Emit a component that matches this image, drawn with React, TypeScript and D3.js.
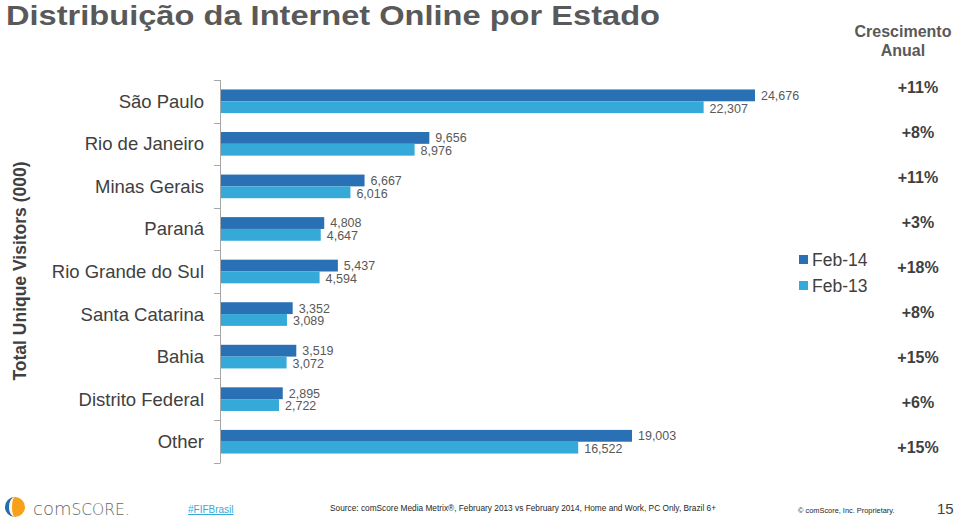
import { useEffect, useRef } from "react"
import * as d3 from "d3"

const categories = [
  "São Paulo",
  "Rio de Janeiro",
  "Minas Gerais",
  "Paraná",
  "Rio Grande do Sul",
  "Santa Catarina",
  "Bahia",
  "Distrito Federal",
  "Other",
]
const feb14 = [24676, 9656, 6667, 4808, 5437, 3352, 3519, 2895, 19003]
const feb13 = [22307, 8976, 6016, 4647, 4594, 3089, 3072, 2722, 16522]
const growth = ["+11%", "+8%", "+11%", "+3%", "+18%", "+8%", "+15%", "+6%", "+15%"]
const seriesNames = ["Feb-14", "Feb-13"]
const seriesColors = ["#2A70B4", "#35A9D8"]

const FONT = "'Liberation Sans', Arial, sans-serif"

export default function App() {
  const svgRef = useRef<SVGSVGElement | null>(null)

  useEffect(() => {
    if (!svgRef.current) return
    const svg = d3.select(svgRef.current)
    svg.selectAll("*").remove()

    const width = 959
    const height = 520

    svg.attr("width", width).attr("height", height).attr("font-family", FONT)
    svg.append("rect").attr("width", width).attr("height", height).attr("fill", "#fff")

    // title (slightly stretched like the slide)
    svg.append("text")
      .attr("x", 6)
      .attr("y", 25)
      .attr("font-size", 28)
      .attr("font-weight", "bold")
      .attr("fill", "#595959")
      .attr("textLength", 654)
      .attr("lengthAdjust", "spacingAndGlyphs")
      .text("Distribuição da Internet Online por Estado")

    const x = d3.scaleLinear().domain([0, 25000]).range([220, 762])
    const y = d3.scaleBand().domain(categories).range([80, 463])
    const inner = d3.scaleBand().domain(seriesNames).range([0, y.bandwidth()]).paddingOuter(0.8)

    const rows = categories.map((c, i) => ({ c, values: [feb14[i], feb13[i]] }))

    // axis line + ticks
    const axis = svg.append("g").attr("stroke", "#A6A6A6").attr("stroke-width", 1)
    axis.append("line").attr("x1", 220.5).attr("x2", 220.5).attr("y1", 80).attr("y2", 463)
    const bounds = categories.map((c) => y(c)!).concat([463])
    axis.selectAll(".tick")
      .data(bounds)
      .enter()
      .append("line")
      .attr("x1", 214)
      .attr("x2", 220.5)
      .attr("y1", (d) => Math.round(d) + 0.5)
      .attr("y2", (d) => Math.round(d) + 0.5)

    // category labels
    svg.append("g")
      .selectAll("text")
      .data(categories)
      .enter()
      .append("text")
      .attr("x", 204)
      .attr("y", (d) => y(d)! + y.bandwidth() / 2)
      .attr("dy", "0.35em")
      .attr("text-anchor", "end")
      .attr("font-size", 18.5)
      .attr("fill", "#404040")
      .text((d) => d)

    // bars
    const groups = svg.append("g")
      .selectAll("g")
      .data(rows)
      .enter()
      .append("g")
      .attr("transform", (d) => `translate(0,${y(d.c)})`)

    groups.selectAll("rect")
      .data((d) => d.values.map((v, k) => ({ v, k })))
      .enter()
      .append("rect")
      .attr("x", x(0) + 1)
      .attr("y", (d) => inner(seriesNames[d.k])!)
      .attr("width", (d) => x(d.v) - x(0) - 1)
      .attr("height", inner.bandwidth())
      .attr("fill", (d) => seriesColors[d.k])

    groups.selectAll("text")
      .data((d) => d.values.map((v, k) => ({ v, k })))
      .enter()
      .append("text")
      .attr("x", (d) => x(d.v) + 6)
      .attr("y", (d) => inner(seriesNames[d.k])! + inner.bandwidth() / 2 + (d.k === 1 ? 1 : 0))
      .attr("dy", "0.35em")
      .attr("font-size", 12.5)
      .attr("fill", "#595959")
      .text((d) => d3.format(",")(d.v))

    // legend
    const legend = svg.append("g").attr("transform", "translate(799,252)")
    seriesNames.forEach((name, i) => {
      const lg = legend.append("g").attr("transform", `translate(0,${i * 26})`)
      lg.append("rect").attr("x", 0).attr("y", 3).attr("width", 9).attr("height", 9).attr("fill", seriesColors[i])
      lg.append("text")
        .attr("x", 13)
        .attr("y", 8)
        .attr("dy", "0.35em")
        .attr("font-size", 17.5)
        .attr("fill", "#404040")
        .text(name)
    })

    // growth column
    svg.append("text")
      .attr("x", 903)
      .attr("y", 37)
      .attr("text-anchor", "middle")
      .attr("font-size", 16)
      .attr("font-weight", "bold")
      .attr("fill", "#595959")
      .selectAll("tspan")
      .data(["Crescimento", "Anual"])
      .enter()
      .append("tspan")
      .attr("x", 903)
      .attr("dy", (_, i) => (i === 0 ? 0 : 19))
      .text((d) => d)

    const gy = d3.scalePoint().domain(categories).range([87, 447])
    svg.append("g")
      .selectAll("text")
      .data(categories.map((c, i) => ({ c, g: growth[i] })))
      .enter()
      .append("text")
      .attr("x", 918)
      .attr("y", (d) => gy(d.c)!)
      .attr("dy", "0.35em")
      .attr("text-anchor", "middle")
      .attr("font-size", 16)
      .attr("font-weight", "bold")
      .attr("fill", "#404040")
      .text((d) => d.g)

    // y axis title
    svg.append("text")
      .attr("transform", "translate(26,271) rotate(-90)")
      .attr("text-anchor", "middle")
      .attr("font-size", 17.5)
      .attr("font-weight", "bold")
      .attr("fill", "#404040")
      .text("Total Unique Visitors (000)")

    // footer
    const logo = svg.append("g").attr("transform", "translate(15,507)")
    logo.append("circle").attr("r", 10).attr("fill", "#F7A11A")
    logo.append("path")
      .attr("d", "M0,-10 A10,10 0 0,0 0,10 A6,10 0 0,1 0,-10 Z")
      .attr("fill", "#1F6FB5")
    logo.append("path")
      .attr("d", "M0,-10 A6,10 0 0,0 0,10 A3,10 0 0,1 0,-10 Z")
      .attr("fill", "#fff")
      .attr("opacity", 0.9)

    const brand = svg.append("text")
      .attr("x", 33)
      .attr("y", 515)
      .attr("fill", "#666")
      .attr("font-family", "'DejaVu Sans', sans-serif")
      .attr("font-weight", 300)
    brand.append("tspan").attr("font-size", 18).text("com")
    brand.append("tspan").attr("font-size", 15.5).text("SCORE.")

    svg.append("text")
      .attr("x", 188)
      .attr("y", 513)
      .attr("font-size", 10)
      .attr("fill", "#35A9D8")
      .attr("text-decoration", "underline")
      .text("#FIFBrasil")

    svg.append("text")
      .attr("x", 330)
      .attr("y", 511)
      .attr("font-size", 8.3)
      .attr("fill", "#262626")
      .text("Source: comScore Media Metrix®, February 2013 vs February 2014, Home and Work, PC Only, Brazil 6+")

    svg.append("text")
      .attr("x", 798)
      .attr("y", 513)
      .attr("font-size", 7.4)
      .attr("fill", "#262626")
      .text("© comScore, Inc. Proprietary.")

    svg.append("text")
      .attr("x", 937)
      .attr("y", 514)
      .attr("font-size", 15)
      .attr("fill", "#404040")
      .text("15")
  }, [])

  return <svg ref={svgRef} style={{ position: "absolute", left: 0, top: 0, display: "block" }} />
}
